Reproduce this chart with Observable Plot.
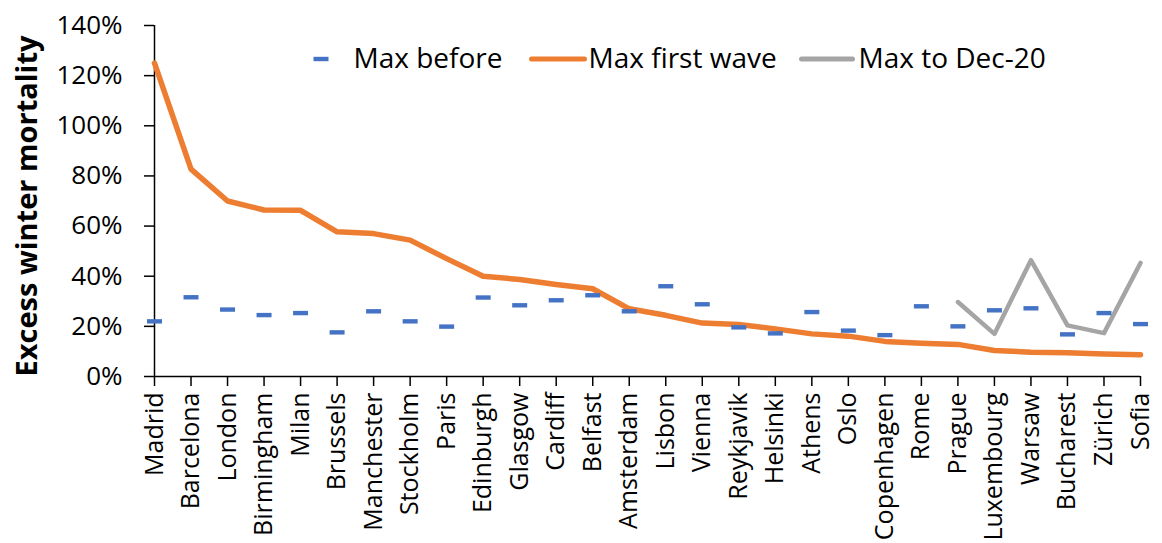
<!DOCTYPE html>
<html>
<head>
<meta charset="utf-8">
<script src="https://cdn.jsdelivr.net/npm/d3@7"></script>
<script src="https://cdn.jsdelivr.net/npm/@observablehq/plot@0.6"></script>
<style>
  html, body { margin: 0; padding: 0; background: #fff; }
</style>
</head>
<body>
<div id="chart"></div>
<script>
const cities = ["Madrid","Barcelona","London","Birmingham","Milan","Brussels","Manchester","Stockholm","Paris","Edinburgh","Glasgow","Cardiff","Belfast","Amsterdam","Lisbon","Vienna","Reykjavik","Helsinki","Athens","Oslo","Copenhagen","Rome","Prague","Luxembourg","Warsaw","Bucharest","Zürich","Sofia"];
const maxBefore = [22, 31.6, 26.7, 24.5, 25.3, 17.6, 26, 22, 19.9, 31.5, 28.4, 30.4, 32.4, 26, 36, 28.8, 19.6, 17.2, 25.7, 18.3, 16.5, 28, 20, 26.4, 27.2, 16.8, 25.3, 20.9];
const maxFirstWave = [125, 82.7, 70, 66.4, 66.3, 57.7, 57, 54.4, 47, 40, 38.7, 36.7, 35, 27, 24.4, 21.3, 20.7, 19, 17, 16.1, 14, 13.3, 12.8, 10.4, 9.7, 9.5, 9, 8.7];
const maxToDec20 = [null,null,null,null,null,null,null,null,null,null,null,null,null,null,null,null,null,null,null,null,null,null, 29.7, 17, 46.4, 20.4, 17.3, 45.3];
const yTicks = [0, 20, 40, 60, 80, 100, 120, 140];
const seriesNames = ["Max before", "Max first wave", "Max to Dec-20"];
const seriesColors = ["#4472C4", "#ED7D31", "#A5A5A5"];
const yTitle = "Excess winter mortality";

const rows = cities.map((c, i) => ({
  city: c,
  before: maxBefore[i] / 100,
  first: maxFirstWave[i] / 100,
  dec: maxToDec20[i] == null ? null : maxToDec20[i] / 100
}));
const decRows = rows.filter(d => d.dec != null);

// custom symbols
const dash = { draw(ctx) { ctx.rect(-7.5, -2.2, 15, 4.4); } };
const swatch = (w) => ({ draw(ctx) { ctx.moveTo(-w / 2, 0); ctx.lineTo(w / 2, 0); } });

const FONT = "'Open Sans', Lato, sans-serif";

const chart = Plot.plot({
  width: 1162,
  height: 543,
  marginLeft: 154,
  marginRight: 22,
  marginTop: 25,
  marginBottom: 167,
  style: { fontFamily: FONT, color: "#000", background: "#fff", overflow: "visible" },
  x: { type: "point", domain: cities, padding: 0, round: false },
  y: { domain: [0, 1.4] },
  marks: [
    Plot.axisY({ ticks: yTicks.map(v => v / 100), tickFormat: d3.format(".0%"), tickSize: 10, tickPadding: 22, fontSize: 26, label: null, strokeWidth: 1.5 }),
    Plot.axisX({ tickSize: 10, tickPadding: 6, tickRotate: -90, fontSize: 25, label: null, strokeWidth: 1.5 }),
    Plot.ruleX([cities[0]], { stroke: "#000", strokeWidth: 1.5 }),
    Plot.ruleY([0], { stroke: "#000", strokeWidth: 1.5 }),
    Plot.line(decRows, { x: "city", y: "dec", stroke: seriesColors[2], strokeWidth: 4.5, strokeLinejoin: "round", strokeLinecap: "round" }),
    Plot.line(rows, { x: "city", y: "first", stroke: seriesColors[1], strokeWidth: 5.5, strokeLinejoin: "round", strokeLinecap: "round" }),
    Plot.dot(rows, { x: "city", y: "before", symbol: dash, fill: seriesColors[0], stroke: "none" }),
    // y-axis title
    Plot.text([yTitle], { frameAnchor: "left", dx: -127, dy: 5, rotate: -90, textAnchor: "middle", lineAnchor: "middle", fontSize: 29, fontWeight: "bold", fill: "#000", text: d => d }),
    // legend
    Plot.dot([seriesNames[0]], { frameAnchor: "top-left", dx: 166.5, dy: 33.5, symbol: dash, fill: seriesColors[0], stroke: "none" }),
    Plot.dot([seriesNames[1]], { frameAnchor: "top-left", dx: 403.5, dy: 33.5, symbol: swatch(53), fill: "none", stroke: seriesColors[1], strokeWidth: 5, strokeLinecap: "round" }),
    Plot.dot([seriesNames[2]], { frameAnchor: "top-left", dx: 672.5, dy: 33.5, symbol: swatch(51), fill: "none", stroke: seriesColors[2], strokeWidth: 5, strokeLinecap: "round" }),
    Plot.text([seriesNames[0]], { frameAnchor: "top-left", dx: 199, dy: 34, textAnchor: "start", lineAnchor: "middle", fontSize: 28, fill: "#000", text: d => d }),
    Plot.text([seriesNames[1]], { frameAnchor: "top-left", dx: 434, dy: 34, textAnchor: "start", lineAnchor: "middle", fontSize: 28, fill: "#000", text: d => d }),
    Plot.text([seriesNames[2]], { frameAnchor: "top-left", dx: 704, dy: 34, textAnchor: "start", lineAnchor: "middle", fontSize: 28, fill: "#000", text: d => d })
  ]
});

document.getElementById("chart").appendChild(chart);
</script>
</body>
</html>
